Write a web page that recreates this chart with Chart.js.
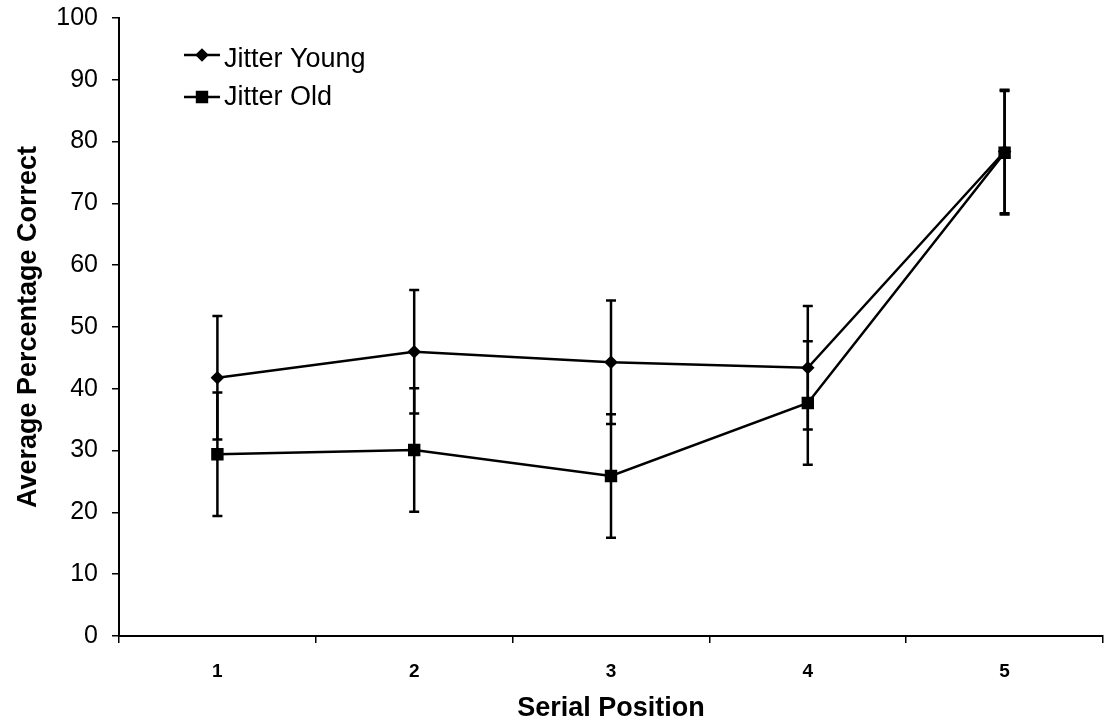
<!DOCTYPE html>
<html>
<head>
<meta charset="utf-8">
<script src="https://cdn.jsdelivr.net/npm/chart.js@4.4.1/dist/chart.umd.min.js"></script>
<style>
  html, body { margin: 0; padding: 0; background: #fff; }
  #wrap { width: 1108px; height: 725px; position: relative; }
</style>
</head>
<body>
<div id="wrap"><canvas id="c"></canvas></div>
<script>
// ---- data ----
const categories = ['1', '2', '3', '4', '5'];
const youngValues = [41.8, 46.0, 44.3, 43.4, 78.4];
const youngErrors = [10, 10, 10, 10, 10];
const oldValues = [29.4, 30.1, 25.9, 37.7, 78.2];
const oldErrors = [10, 10, 10, 10, 10];
const seriesNames = ['Jitter Young', 'Jitter Old'];
const yTitle = 'Average Percentage Correct';
const xTitle = 'Serial Position';

const FONT = "'Liberation Sans', Arial, Helvetica, sans-serif";

const errorBars = {
  id: 'errorBars',
  beforeDatasetsDraw(chart) {
    const ctx = chart.ctx;
    const y = chart.scales.y;
    const errs = [youngErrors, oldErrors];
    ctx.save();
    ctx.strokeStyle = '#000';
    ctx.lineWidth = 2.5;
    chart.data.datasets.forEach((ds, i) => {
      const meta = chart.getDatasetMeta(i);
      meta.data.forEach((pt, j) => {
        const v = ds.data[j];
        const e = errs[i][j];
        const yTop = y.getPixelForValue(v + e);
        const yBot = y.getPixelForValue(v - e);
        const x = pt.x;
        ctx.beginPath();
        ctx.moveTo(x, yTop); ctx.lineTo(x, yBot);
        ctx.moveTo(x - 5, yTop); ctx.lineTo(x + 5, yTop);
        ctx.moveTo(x - 5, yBot); ctx.lineTo(x + 5, yBot);
        ctx.stroke();
      });
    });
    ctx.restore();
  }
};

const customLegend = {
  id: 'customLegend',
  afterDraw(chart) {
    const ctx = chart.ctx;
    const entries = [
      { ds: chart.data.datasets[0], lineY: 55, textY: 60 },
      { ds: chart.data.datasets[1], lineY: 97, textY: 98 }
    ];
    ctx.save();
    entries.forEach(en => {
      ctx.strokeStyle = '#000';
      ctx.lineWidth = 2.5;
      ctx.beginPath();
      ctx.moveTo(184, en.lineY);
      ctx.lineTo(220, en.lineY);
      ctx.stroke();
      Chart.helpers.drawPoint(ctx, {
        pointStyle: en.ds.pointStyle,
        radius: en.ds.pointRadius,
        borderWidth: 1
      }, 202, en.lineY);
      ctx.fillStyle = '#000';
      ctx.font = '27px ' + FONT;
      ctx.textBaseline = 'middle';
      ctx.textAlign = 'left';
      ctx.fillText(en.ds.label, 224, en.textY);
    });
    ctx.restore();
  }
};

new Chart(document.getElementById('c'), {
  type: 'line',
  data: {
    labels: categories,
    datasets: [
      {
        label: seriesNames[0],
        data: youngValues,
        borderColor: '#000',
        backgroundColor: '#000',
        borderWidth: 2.5,
        pointStyle: 'rectRot',
        pointRadius: 5,
        pointBackgroundColor: '#000',
        pointBorderColor: '#000',
        tension: 0
      },
      {
        label: seriesNames[1],
        data: oldValues,
        borderColor: '#000',
        backgroundColor: '#000',
        borderWidth: 2.5,
        pointStyle: 'rect',
        pointRadius: 7,
        pointBackgroundColor: '#000',
        pointBorderColor: '#000',
        tension: 0
      }
    ]
  },
  options: {
    responsive: true,
    maintainAspectRatio: false,
    animation: false,
    devicePixelRatio: 1,
    layout: { autoPadding: false, padding: { top: 18, right: 5, bottom: 0, left: 0 } },
    plugins: {
      legend: { display: false },
      tooltip: { enabled: false }
    },
    scales: {
      x: {
        type: 'category',
        offset: true,
        grid: {
          offset: true,
          drawOnChartArea: false,
          drawTicks: true,
          tickLength: 7,
          color: '#000',
          lineWidth: 1.5
        },
        border: { display: true, color: '#000', width: 2 },
        ticks: {
          color: '#000',
          font: { family: FONT, size: 19, weight: 'bold' },
          padding: 17,
          maxRotation: 0
        },
        title: {
          display: true,
          text: xTitle,
          color: '#000',
          font: { family: FONT, size: 27, weight: 'bold' },
          padding: { top: 0, bottom: 0 }
        },
        afterFit(scale) {
          scale.height = 89;
          scale.paddingLeft = 0;
          scale.paddingRight = 0;
        }
      },
      y: {
        min: 0,
        max: 100,
        grid: {
          drawOnChartArea: false,
          drawTicks: true,
          tickLength: 7,
          color: '#000',
          lineWidth: 1.5
        },
        border: { display: true, color: '#000', width: 2 },
        ticks: {
          stepSize: 10,
          color: '#000',
          font: { family: FONT, size: 25 },
          padding: 14
        },
        title: {
          display: true,
          text: yTitle,
          color: '#000',
          font: { family: FONT, size: 27, weight: 'bold' },
          padding: { top: 12, bottom: 0 }
        },
        afterFit(scale) {
          scale.width = 119;
          scale.paddingTop = 0;
          scale.paddingBottom = 0;
        }
      }
    }
  },
  plugins: [errorBars, customLegend]
});
</script>
</body>
</html>
